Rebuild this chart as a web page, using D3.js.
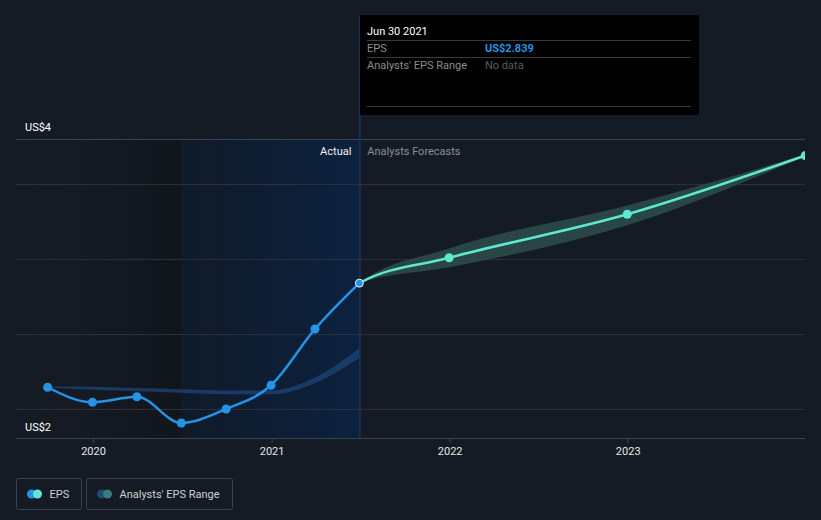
<!DOCTYPE html>
<html><head><meta charset="utf-8">
<script src="https://cdn.jsdelivr.net/npm/d3@7"></script>
<style>
html,body{margin:0;padding:0;background:#151b24;}
svg{display:block;font-family:Roboto,"Noto Sans",sans-serif;}
</style></head>
<body>
<svg id="c" width="821" height="520"></svg>
<script>
// ---- data ----
const epsDates = ["2019-09-30","2019-12-31","2020-03-31","2020-06-30","2020-09-30","2020-12-31","2021-03-31","2021-06-30"];
const epsValues = [2.145, 2.045, 2.082, 1.907, 2.0, 2.158, 2.533, 2.839];
const pastRangeLow  = [2.143, 2.128, 2.118, 2.108, 2.098, 2.098, 2.172, 2.34];
const pastRangeHigh = [2.150, 2.148, 2.140, 2.132, 2.124, 2.124, 2.21, 2.405];
const fcDates = ["2021-06-30","2021-12-31","2022-12-31","2023-12-31"];
const fcValues = [2.839, 3.008, 3.298, 3.69];
const fcLow  = [2.839, 2.945, 3.225, 3.685];
const fcHigh = [2.839, 3.07, 3.357, 3.695];
const yearTicks = ["2020","2021","2022","2023"];
const yLabels = [4, 2];
const gridValues = [2, 2.5, 3, 3.5];

const parse = d3.timeParse("%Y-%m-%d");
const svg = d3.select("#c");
const W = 821, H = 520;
const L = 16, R = 805, T = 139, B = 438;

const x = d3.scaleTime().domain([parse("2020-01-01"), parse("2023-01-01")]).range([93, 627.7]);
const y = d3.scaleLinear().domain([2, 4]).range([409, 109]);

svg.append("rect").attr("width", W).attr("height", H).attr("fill", "#151b24");

const xSplit0 = x(parse("2020-06-30")), xNow = x(parse("2021-06-30"));

const defs = svg.append("defs");
const g1 = defs.append("linearGradient").attr("id","gDark").attr("x1","0").attr("x2","1").attr("y1","0").attr("y2","0");
g1.append("stop").attr("offset","0").attr("stop-color","#151a22").attr("stop-opacity",0);
g1.append("stop").attr("offset","1").attr("stop-color","#11151c").attr("stop-opacity",1);
const g2 = defs.append("linearGradient").attr("id","gBlue").attr("x1","0").attr("x2","1").attr("y1","0").attr("y2","0");
g2.append("stop").attr("offset","0").attr("stop-color","#101a28");
g2.append("stop").attr("offset","1").attr("stop-color","#0c213f");
defs.append("clipPath").attr("id","clip").append("rect").attr("x",L).attr("y",T-10).attr("width",R-L).attr("height",B-T+10);
defs.append("clipPath").attr("id","clipF").append("rect").attr("x",xNow).attr("y",T-10).attr("width",R-xNow).attr("height",B-T+10);

svg.append("rect").attr("x", L).attr("y", T).attr("width", xSplit0 - L).attr("height", B - T).attr("fill", "url(#gDark)");
svg.append("rect").attr("x", xSplit0).attr("y", T).attr("width", xNow - xSplit0).attr("height", B - T).attr("fill", "url(#gBlue)");

// grid
svg.append("line").attr("x1", L).attr("x2", R).attr("y1", T + 0.5).attr("y2", T + 0.5).attr("stroke", "#3d424c").attr("stroke-width", 1);
svg.selectAll(".grid").data(gridValues).enter().append("line")
  .attr("x1", L).attr("x2", R).attr("y1", d => Math.round(y(d)) + 0.5).attr("y2", d => Math.round(y(d)) + 0.5)
  .attr("stroke", "#2b313b").attr("stroke-width", 1);

// x axis
const xa = svg.append("g").attr("transform", `translate(0,${B})`)
  .call(d3.axisBottom(x).tickValues(yearTicks.map(s => parse(s + "-01-01"))).tickFormat(d3.timeFormat("%Y")).tickSize(5).tickPadding(4));
xa.select(".domain").attr("d", `M${L},0.5H${R}`).attr("stroke", "#3d424c");
xa.selectAll(".tick line").attr("stroke", "#3d424c");
xa.selectAll(".tick text").attr("fill", "#e6e6e6").attr("font-size", 11).attr("font-family", "Roboto");

// y labels
svg.selectAll(".ylab").data(yLabels).enter().append("text")
  .attr("x", 25).attr("y", d => y(d) + 22).attr("fill", "#ffffff").attr("font-size", 11)
  .text(d => "US$" + d);

// hover line
svg.append("line").attr("x1", xNow + 0.5).attr("x2", xNow + 0.5).attr("y1", 15).attr("y2", B)
  .attr("stroke", "#17345a").attr("stroke-width", 1.5);

// labels
svg.append("text").attr("x", xNow - 8).attr("y", 155).attr("text-anchor", "end").attr("fill", "#f2f2f2").attr("font-size", 11).text("Actual");
svg.append("text").attr("x", xNow + 8).attr("y", 155).attr("fill", "#8a8e95").attr("font-size", 11).text("Analysts Forecasts");

const plot = svg.append("g").attr("clip-path", "url(#clip)");
const fplot = svg.append("g").attr("clip-path", "url(#clipF)");
const marks = svg.append("g").attr("clip-path", "url(#clip)");

// past analysts' range band
const pastRows = epsDates.map((d, i) => ({d: parse(d), lo: pastRangeLow[i], hi: pastRangeHigh[i]}));
plot.append("path").datum(pastRows)
  .attr("d", d3.area().curve(d3.curveMonotoneX).x(r => x(r.d)).y0(r => y(r.lo)).y1(r => y(r.hi)))
  .attr("fill", "#1c4272").attr("opacity", 0.8);

// rows
const epsRows = epsDates.map((d, i) => ({d: parse(d), v: epsValues[i]}));
const fcRows = fcDates.map((d, i) => ({d: parse(d), v: fcValues[i], lo: fcLow[i], hi: fcHigh[i]}));
const prev = epsRows[epsRows.length - 2];
const joined = [{d: prev.d, v: prev.v, lo: prev.v, hi: prev.v}].concat(fcRows);

// forecast band
fplot.append("path").datum(joined)
  .attr("d", d3.area().curve(d3.curveMonotoneX).x(r => x(r.d)).y0(r => y(r.lo)).y1(r => y(r.hi)))
  .attr("fill", "#2b4b4a").attr("opacity", 0.9);

// EPS actual line
plot.append("path").datum(epsRows)
  .attr("d", d3.line().curve(d3.curveMonotoneX).x(r => x(r.d)).y(r => y(r.v)))
  .attr("fill", "none").attr("stroke", "#2394e6").attr("stroke-width", 2.5);
marks.selectAll(".ep").data(epsRows.slice(0, -1)).enter().append("circle")
  .attr("cx", r => x(r.d)).attr("cy", r => y(r.v)).attr("r", 4.5).attr("fill", "#2394e6");

// forecast line
fplot.append("path").datum(joined)
  .attr("d", d3.line().curve(d3.curveMonotoneX).x(r => x(r.d)).y(r => y(r.v)))
  .attr("fill", "none").attr("stroke", "#5ee8d2").attr("stroke-width", 2.5);
marks.selectAll(".fp").data(fcRows.slice(1)).enter().append("circle")
  .attr("cx", r => x(r.d)).attr("cy", r => y(r.v)).attr("r", 4.5).attr("fill", "#5ee8d2");

// current point
const last = epsRows[epsRows.length - 1];
marks.append("circle").attr("cx", x(last.d)).attr("cy", y(last.v)).attr("r", 4)
  .attr("fill", "#2394e6").attr("stroke", "#e8eef5").attr("stroke-width", 1);

// tooltip
const tt = svg.append("g");
tt.append("rect").attr("x", 360).attr("y", 15).attr("width", 339).attr("height", 100).attr("fill", "#000000");
tt.append("text").attr("x", 367).attr("y", 35).attr("fill", "#ffffff").attr("font-size", 11).text("Jun 30 2021");
[40.5, 57.5, 106.5].forEach(yy => tt.append("line").attr("x1", 367).attr("x2", 691).attr("y1", yy).attr("y2", yy).attr("stroke", "#3a3a3a"));
tt.append("text").attr("x", 367).attr("y", 52).attr("fill", "#8d8d8d").attr("font-size", 11).text("EPS");
tt.append("text").attr("x", 485).attr("y", 52).attr("fill", "#2394e6").attr("font-size", 11).attr("font-weight", "bold").text("US$" + epsValues[epsValues.length - 1].toFixed(3));
tt.append("text").attr("x", 367).attr("y", 69).attr("fill", "#8d8d8d").attr("font-size", 11).text("Analysts' EPS Range");
tt.append("text").attr("x", 485).attr("y", 69).attr("fill", "#5c5c5c").attr("font-size", 11).text("No data");

// legend
const leg = svg.append("g");
const items = [
  {label: "EPS", x: 16.5, w: 65, c1: "#2394e6", c2: "#5ee8d2"},
  {label: "Analysts' EPS Range", x: 86.5, w: 146, c1: "#1c4a7a", c2: "#3c7c7a"}
];
items.forEach(it => {
  leg.append("rect").attr("x", it.x).attr("y", 478.5).attr("width", it.w).attr("height", 31).attr("rx", 2)
    .attr("fill", "none").attr("stroke", "#3d424c");
  leg.append("circle").attr("cx", it.x + 15).attr("cy", 494).attr("r", 4.5).attr("fill", it.c1);
  leg.append("circle").attr("cx", it.x + 21).attr("cy", 494).attr("r", 4.5).attr("fill", it.c2);
  leg.append("text").attr("x", it.x + 33).attr("y", 498).attr("fill", "#d0d0d0").attr("font-size", 11).text(it.label);
});
</script>
</body></html>
